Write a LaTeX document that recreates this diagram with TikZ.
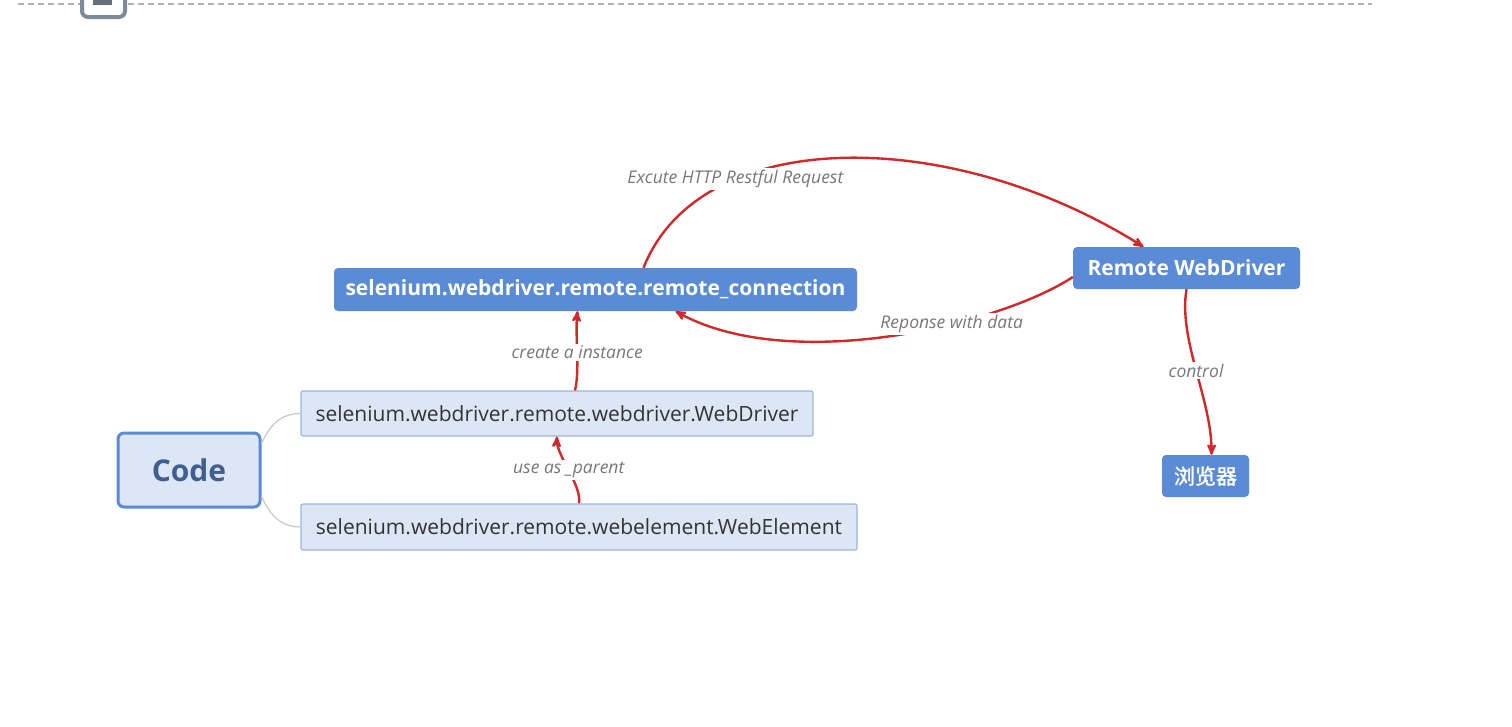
\documentclass[tikz,border=0pt]{standalone}
\usepackage{fontspec}
\setmainfont{Open Sans}
\newfontfamily\cjk{Noto Sans CJK SC}[AutoFakeBold=1.5]
\usetikzlibrary{arrows, positioning, calc}
\definecolor{boxBlue}{HTML}{5A8BD6}
\definecolor{paleBlue}{HTML}{DCE6F4}
\definecolor{paleBorder}{HTML}{9DB6DC}
\definecolor{codeText}{HTML}{3F5F8F}
\definecolor{arrowRed}{HTML}{D42828}
\definecolor{labelGray}{HTML}{777777}
\definecolor{linkGray}{HTML}{C8C8C8}
\definecolor{iconGray}{HTML}{7D8B99}
\tikzstyle{darkBox}=[rectangle, rounded corners=4pt, fill=boxBlue, text=white,
  inner sep=0pt, font=\bfseries\fontsize{21}{24}\selectfont]
\tikzstyle{paleBox}=[rectangle, rounded corners=2pt, fill=paleBlue, draw=paleBorder,
  line width=1.2pt, text=black!80, inner sep=0pt, font=\fontsize{21}{24}\selectfont]
\tikzstyle{codeBox}=[rectangle, rounded corners=6pt, fill=paleBlue, draw=boxBlue,
  line width=3pt, text=codeText, inner sep=0pt, font=\bfseries\fontsize{30}{34}\selectfont]
\tikzstyle{arrow}=[->, >=stealth', line width=2.4pt, draw=arrowRed]
\tikzstyle{link}=[line width=1.2pt, draw=linkGray]
\tikzstyle{edgeLabel}=[fill=white, inner sep=2pt, text=labelGray,
  font=\itshape\fontsize{17.5}{20}\selectfont]
\begin{document}
\begin{tikzpicture}[x=1pt, y=-1pt]
  \useasboundingbox (0,0) rectangle (1512,726);
  \clip (0,0) rectangle (1512,726);
  % top rule and cut icon
  \draw [black!30, line width=1.2pt, dash pattern=on 6pt off 4pt] (18,4) -- (1372,4);
  \draw [iconGray, line width=4pt, fill=white, rounded corners=6pt] (82,-25) rectangle (125,17);
  \fill [iconGray!80!black] (93,-2) rectangle (112,5);

  \node (code) [codeBox, minimum width=142pt, minimum height=74pt] at (189,470) {Code};
  \node (wd) [paleBox, minimum width=512pt, minimum height=45pt] at (557,413.5)
    {selenium.webdriver.remote.webdriver.WebDriver};
  \node (we) [paleBox, minimum width=556pt, minimum height=46pt] at (579,527)
    {selenium.webdriver.remote.webelement.WebElement};
  \node (rc) [darkBox, minimum width=523pt, minimum height=43pt] at (595.5,289.5)
    {selenium.webdriver.remote.remote\_connection};
  \node (rwd) [darkBox, minimum width=227pt, minimum height=42pt] at (1186.5,268)
    {Remote WebDriver};
  \node (br) [darkBox, minimum width=87pt, minimum height=42pt] at (1205.5,476)
    {\cjk\bfseries 浏览器};

  % code tree
  \draw [link] (code.20) .. controls (272,420) and (285,413.5) .. (wd.west);
  \draw [link] (code.-20) .. controls (272,520) and (285,527) .. (we.west);

  % calls
  \draw [arrow] (we.north) .. controls (582,485) and (556,455) ..
    node [edgeLabel] {use as \_parent} (wd.south);
  \draw [arrow] ($(wd.north)+(18,0)$) .. controls (580,370) and (575,335) ..
    node [edgeLabel] {create a instance} ($(rc.south)+(-18,0)$);
  \draw [arrow] ($(rc.north)+(48,0)$) .. controls (700,125) and (950,125) ..
    node [edgeLabel, pos=0.29] {Excute HTTP Restful Request} ($(rwd.north)+(-43,0)$);
  \draw [arrow] ($(rwd.west)+(0,9)$) .. controls (1000,325) and (790,375) ..
    node [edgeLabel, pos=0.36] {Reponse with data} ($(rc.south)+(80,0)$);
  \draw [arrow] (rwd.south) .. controls (1178,340) and (1212,400) ..
    node [edgeLabel] {control} ($(br.north)+(6,0)$);
\end{tikzpicture}
\end{document}
